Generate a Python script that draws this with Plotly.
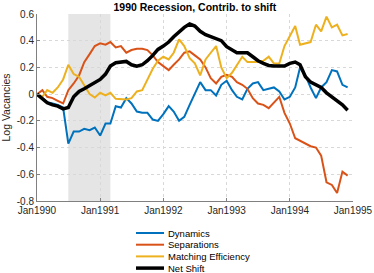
import plotly.graph_objects as go
import pandas as pd

dates = pd.date_range("1990-01-01", periods=60, freq="MS")

dynamics = [0, -0.03, -0.06, -0.07, -0.08, -0.10, -0.37, -0.28, -0.28, -0.26,
            -0.27, -0.25, -0.31, -0.22, -0.22, -0.09, -0.10, -0.03, -0.07, -0.13,
            -0.14, -0.14, -0.19, -0.20, -0.15, -0.09, -0.13, -0.20, -0.17, -0.08,
            0.0, 0.09, 0.03, 0.03, -0.01, 0.07, 0.10, 0.03, -0.02, -0.04,
            0.04, 0.08, 0.09, 0.03, 0.04, 0.05, 0.02, -0.04, -0.02, 0.05,
            0.20, 0.14, 0.05, -0.03, 0.05, 0.09, 0.18, 0.17, 0.07, 0.05]

separations = [0, 0.03, -0.02, -0.03, -0.05, -0.07, 0.03, 0.08, 0.14, 0.24,
               0.30, 0.36, 0.38, 0.37, 0.39, 0.35, 0.36, 0.31, 0.33, 0.34,
               0.34, 0.33, 0.29, 0.24, 0.21, 0.18, 0.22, 0.26, 0.31, 0.32,
               0.29, 0.26, 0.20, 0.12, 0.08, 0.13, 0.145, 0.13, 0.09, 0.07,
               0.04, -0.03, -0.07, -0.08, -0.105, -0.06, -0.02, -0.14, -0.22, -0.33,
               -0.35, -0.37, -0.39, -0.40, -0.46, -0.66, -0.68, -0.74, -0.58, -0.61]

matching = [0, -0.02, 0.03, 0.01, 0.05, 0.11, 0.22, 0.15, 0.13, 0.07,
            0.00, -0.025, 0.01, -0.01, 0.01, -0.035, -0.04, -0.04, -0.03, 0.02,
            0.03, 0.11, 0.19, 0.25, 0.28, 0.26, 0.31, 0.41, 0.36, 0.27,
            0.23, 0.14, 0.26, 0.31, 0.36, 0.20, 0.12, 0.16, 0.22, 0.28,
            0.24, 0.24, 0.24, 0.25, 0.28, 0.23, 0.23, 0.36, 0.44, 0.51,
            0.37, 0.38, 0.39, 0.52, 0.47, 0.58, 0.50, 0.52, 0.44, 0.45]

net_shift = [0, -0.035, -0.065, -0.08, -0.09, -0.11, -0.10, -0.02, 0.02, 0.04,
             0.065, 0.085, 0.11, 0.15, 0.21, 0.235, 0.24, 0.245, 0.22, 0.21,
             0.22, 0.25, 0.29, 0.335, 0.36, 0.39, 0.43, 0.47, 0.50, 0.525,
             0.51, 0.47, 0.445, 0.43, 0.415, 0.40, 0.355, 0.33, 0.31, 0.31,
             0.31, 0.28, 0.25, 0.23, 0.215, 0.21, 0.21, 0.21, 0.23, 0.24,
             0.22, 0.13, 0.09, 0.07, 0.05, 0.01, -0.02, -0.05, -0.08, -0.12]

recession_start = "1990-07-01"
recession_end = "1991-03-01"

x_ticks = ["1990-01-01", "1991-01-01", "1992-01-01", "1993-01-01", "1994-01-01", "1995-01-01"]
x_tick_labels = ["Jan1990", "Jan1991", "Jan1992", "Jan1993", "Jan1994", "Jan1995"]
y_ticks = [-0.8, -0.6, -0.4, -0.2, 0, 0.2, 0.4, 0.6]
y_tick_labels = ["-0.8", "-0.6", "-0.4", "-0.2", "0", "0.2", "0.4", "0.6"]

series = [
    ("Dynamics", dynamics, "#0072BD", 2),
    ("Separations", separations, "#D95319", 2),
    ("Matching Efficiency", matching, "#EDB120", 2),
    ("Net Shift", net_shift, "#000000", 3.5),
]

fig = go.Figure()
for name, vals, color, w in series:
    fig.add_trace(go.Scatter(x=dates, y=vals, mode="lines", name=name,
                             line=dict(color=color, width=w), showlegend=False))

fig.add_shape(type="rect", xref="x", yref="y", x0=recession_start, x1=recession_end,
              y0=-0.8, y1=0.6, fillcolor="#e5e5e5", line_width=0, layer="below")

# legend drawn below the axes (paper coordinates)
W, H = 374, 273
ml, mr, mt, mb = 37, 21, 14, 72
pw, ph = W - ml - mr, H - mt - mb
def px_to_paper_x(px):
    return (px - ml) / pw
def px_to_paper_y(py):
    return (H - mb - py) / ph

leg_x0, leg_x1, leg_text_x = 136, 164, 166
leg_y0, leg_dy = 233, 11.7
for i, (name, vals, color, w) in enumerate(series):
    yy = px_to_paper_y(leg_y0 + i * leg_dy)
    fig.add_shape(type="line", xref="paper", yref="paper",
                  x0=px_to_paper_x(leg_x0), x1=px_to_paper_x(leg_x1), y0=yy, y1=yy,
                  line=dict(color=color, width=w))
    fig.add_annotation(x=px_to_paper_x(leg_text_x), y=yy, xref="paper", yref="paper",
                       text=name, showarrow=False, xanchor="left", yanchor="middle",
                       font=dict(size=9.5, color="#000000"))

font = "Liberation Sans, Arial, sans-serif"
fig.update_layout(
    width=W, height=H,
    margin=dict(l=ml, r=mr, t=mt, b=mb, autoexpand=False),
    plot_bgcolor="white", paper_bgcolor="white",
    font=dict(family=font, size=10, color="#262626"),
    title=dict(text="<b>1990 Recession, Contrib. to shift</b>", x=0.521, xanchor="center",
               y=0.975, yanchor="middle", font=dict(size=10.5, color="#000000")),
    showlegend=False,
)
fig.update_xaxes(type="date", range=["1990-01-01", "1995-01-01"], tickvals=x_ticks,
                 ticktext=x_tick_labels, ticks="inside", ticklen=3, tickcolor="#808080",
                 showline=True, linecolor="#808080", linewidth=1, automargin=False,
                 showgrid=True, gridcolor="#d8d8d8", griddash="dot", gridwidth=1,
                 zeroline=False, tickfont=dict(size=10, color="#262626"))
fig.update_yaxes(range=[-0.8, 0.6], tickvals=y_ticks, ticktext=y_tick_labels,
                 ticks="inside", ticklen=3, tickcolor="#808080",
                 showline=True, linecolor="#808080", linewidth=1, automargin=False,
                 showgrid=True, gridcolor="#d8d8d8", griddash="dot", gridwidth=1,
                 zeroline=False, tickfont=dict(size=10, color="#262626"),
                 title=dict(text="Log Vacancies", font=dict(size=10.5, color="#262626"), standoff=4))

fig.write_html("out.html", config={"displayModeBar": False},
               post_script="document.body.style.margin='0';document.body.style.padding='0';")
